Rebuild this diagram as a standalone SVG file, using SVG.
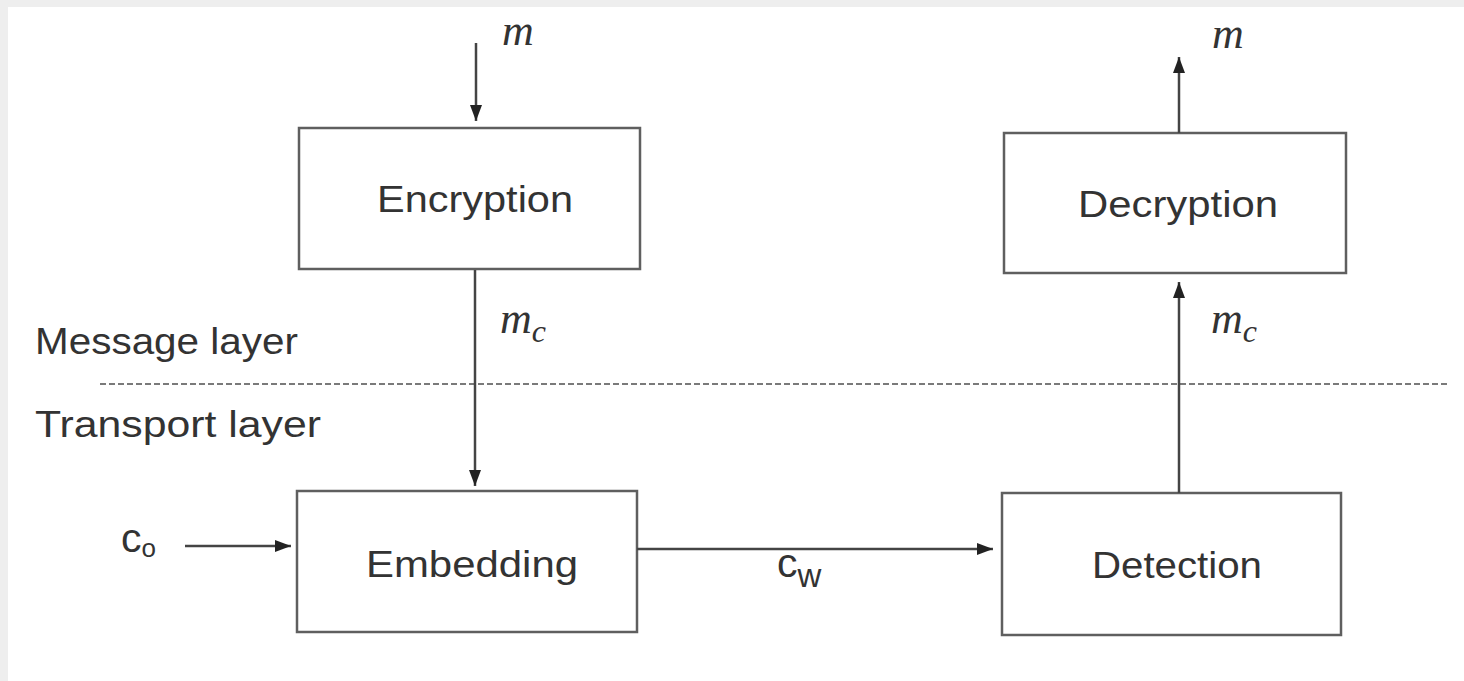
<svg xmlns="http://www.w3.org/2000/svg" width="1464" height="681" viewBox="0 0 1464 681">
<style>
.box{fill:#ffffff;stroke:#5f5f5f;stroke-width:2.5}
.lbl{font-family:"Liberation Sans",Arial,sans-serif;font-size:37px;fill:#333}
.var{font-family:"Liberation Serif","Times New Roman",serif;font-style:italic;font-size:44px;fill:#333}
.sub{font-family:"Liberation Serif","Times New Roman",serif;font-style:italic;font-size:32px;fill:#333}
.sv{font-family:"Liberation Sans",Arial,sans-serif;font-size:41px;fill:#333}
.ss{font-family:"Liberation Sans",Arial,sans-serif;font-size:26px;fill:#333}
.sw{font-family:"Liberation Sans",Arial,sans-serif;font-size:33px;fill:#333}
.conn{stroke:#444;stroke-width:2.5;fill:none;marker-end:url(#ah)}
.dash{stroke:#7a7a7a;stroke-width:2;stroke-dasharray:6 3;fill:none}
</style>
<defs>
<marker id="ah" markerUnits="userSpaceOnUse" markerWidth="16" markerHeight="12" refX="16" refY="6" orient="auto">
<path d="M0,0 L16,6 L0,12 z" fill="#222"/>
</marker>
</defs>
<rect x="0" y="0" width="1464" height="681" fill="#eeeeee"/>
<rect x="8" y="7" width="1456" height="674" fill="#ffffff"/>

<g id="layers">
<text class="lbl" x="35" y="354" textLength="263" lengthAdjust="spacingAndGlyphs">Message layer</text>
<text class="lbl" x="35" y="437" textLength="286" lengthAdjust="spacingAndGlyphs">Transport layer</text>
<line class="dash" x1="100" y1="384" x2="1450" y2="384"/>
</g>

<g id="encryption">
<rect class="box" x="299" y="128" width="341" height="141"/>
<text class="lbl" x="377" y="212" textLength="196" lengthAdjust="spacingAndGlyphs">Encryption</text>
</g>
<g id="decryption">
<rect class="box" x="1004" y="133" width="342" height="140"/>
<text class="lbl" x="1078" y="217" textLength="200" lengthAdjust="spacingAndGlyphs">Decryption</text>
</g>
<g id="embedding">
<rect class="box" x="297" y="491" width="340" height="141"/>
<text class="lbl" x="366" y="577" textLength="212" lengthAdjust="spacingAndGlyphs">Embedding</text>
</g>
<g id="detection">
<rect class="box" x="1002" y="493" width="339" height="142"/>
<text class="lbl" x="1092" y="578" textLength="170" lengthAdjust="spacingAndGlyphs">Detection</text>
</g>

<g id="connectors">
<line class="conn" x1="476" y1="43" x2="476" y2="121"/>
<line class="conn" x1="475" y1="270" x2="475" y2="486"/>
<line class="conn" x1="185" y1="546" x2="291" y2="546"/>
<line class="conn" x1="637" y1="549" x2="993" y2="549"/>
<line class="conn" x1="1179" y1="493" x2="1179" y2="282"/>
<line class="conn" x1="1179" y1="133" x2="1179" y2="57"/>
</g>

<g id="labels">
<text class="var" x="502" y="45">m</text>
<text class="var" x="1212" y="48">m</text>
<text class="var" x="500" y="333">m<tspan class="sub" dy="9">c</tspan></text>
<text class="var" x="1211" y="333">m<tspan class="sub" dy="9">c</tspan></text>
<text class="sv" x="121" y="552">c<tspan class="ss" dy="5">o</tspan></text>
<text class="sv" x="777" y="577">c<tspan class="sw" dy="10">w</tspan></text>
</g>
</svg>
